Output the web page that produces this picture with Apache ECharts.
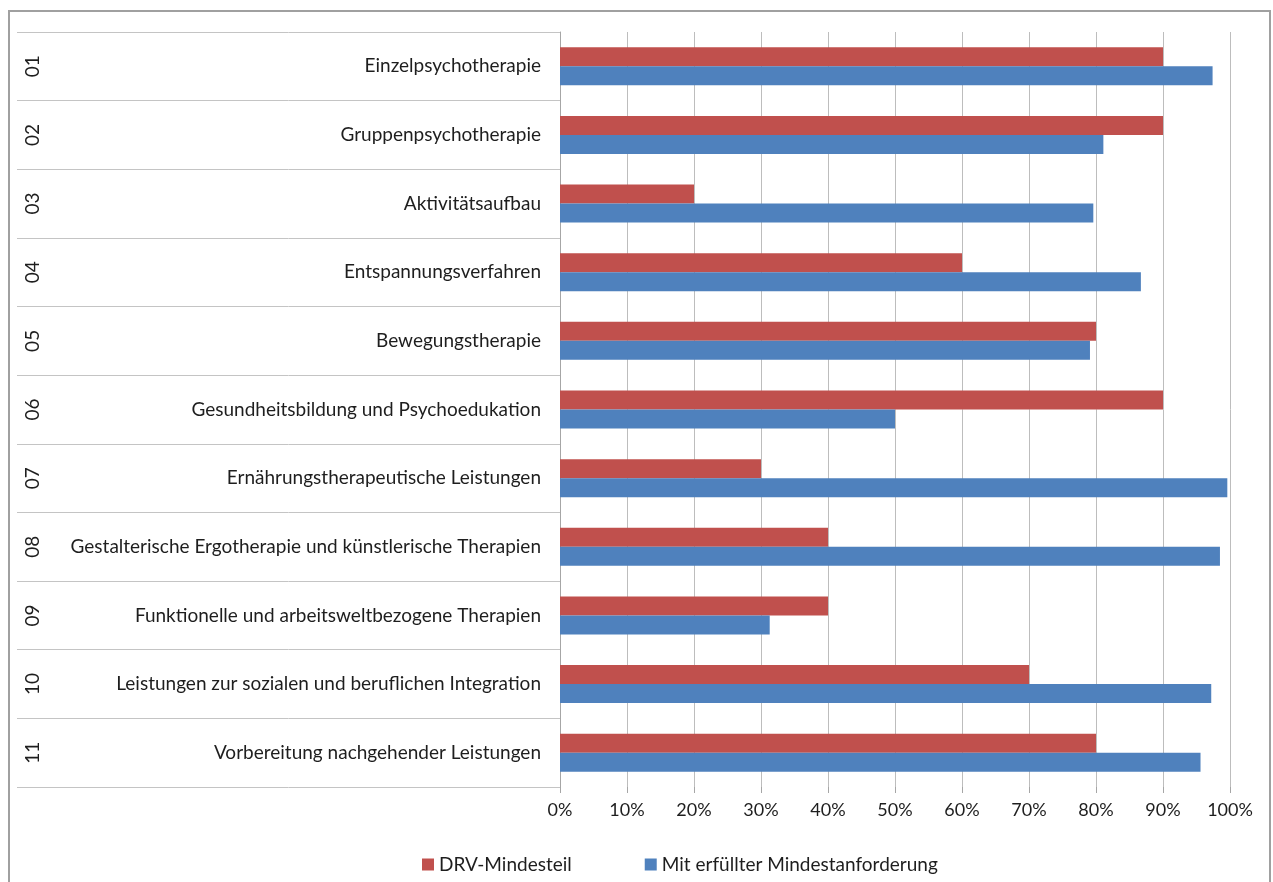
<!DOCTYPE html>
<html><head><meta charset="utf-8">
<script src="https://cdn.jsdelivr.net/npm/echarts@6/dist/echarts.min.js"></script>
<style>html,body{margin:0;padding:0;background:#fff}#c{width:1273px;height:882px}</style>
</head><body><div id="c"></div>
<script>
const codes = ['01','02','03','04','05','06','07','08','09','10','11'];
const categories = [
  'Einzelpsychotherapie',
  'Gruppenpsychotherapie',
  'Aktivitätsaufbau',
  'Entspannungsverfahren',
  'Bewegungstherapie',
  'Gesundheitsbildung und Psychoedukation',
  'Ernährungstherapeutische Leistungen',
  'Gestalterische Ergotherapie und künstlerische Therapien',
  'Funktionelle und arbeitsweltbezogene Therapien',
  'Leistungen zur sozialen und beruflichen Integration',
  'Vorbereitung nachgehender Leistungen'
];
const drvMindestteil = [90, 90, 20, 60, 80, 90, 30, 40, 40, 70, 80];
const mitErfuellter = [97.4, 81.1, 79.6, 86.7, 79.1, 50, 99.6, 98.5, 31.3, 97.2, 95.6];
const seriesNames = ['DRV-Mindesteil', 'Mit erfüllter Mindestanforderung'];

const FONT = 'Lato';
const TXT = '#1e1e1e';
const FS = 19;
const chart = echarts.init(document.getElementById('c'), null, {renderer: 'canvas'});
chart.setOption({
  animation: false,
  backgroundColor: '#fff',
  textStyle: {fontFamily: FONT},
  grid: {left: 560, right: 43, top: 32, bottom: 95, containLabel: false},
  legend: {
    data: seriesNames,
    left: 417, top: 850,
    icon: 'rect', itemWidth: 12, itemHeight: 12, itemGap: 73,
    textStyle: {fontFamily: FONT, fontSize: FS, color: TXT}
  },
  xAxis: {
    type: 'value', min: 0, max: 100, interval: 10,
    axisLine: {show: false},
    axisTick: {show: true, length: 6, lineStyle: {color: '#a6a6a6'}},
    splitLine: {show: true, lineStyle: {color: '#bdbdbd', width: 1}},
    axisLabel: {formatter: '{value}%', margin: 14, fontSize: 18, color: TXT, fontFamily: FONT}
  },
  yAxis: [
    {
      type: 'category', data: categories, inverse: true, position: 'left',
      axisLine: {show: true, lineStyle: {color: '#a6a6a6'}},
      axisTick: {show: true, length: 543, interval: 0, lineStyle: {color: '#c4c4c4'}},
      axisLabel: {margin: 19, fontSize: FS, color: TXT, fontFamily: FONT}
    },
    {
      type: 'category', data: codes, inverse: true, position: 'left', offset: 518,
      axisLine: {show: false}, axisTick: {show: false},
      axisLabel: {rotate: 90, margin: 0, fontSize: FS, color: TXT, fontFamily: FONT}
    }
  ],
  series: [
    {name: seriesNames[0], type: 'bar', yAxisIndex: 0, data: drvMindestteil,
     barWidth: 19, barGap: '0%', itemStyle: {color: '#C0504D'}},
    {name: seriesNames[1], type: 'bar', yAxisIndex: 0, data: mitErfuellter,
     barWidth: 19, barGap: '0%', itemStyle: {color: '#4F81BD'}}
  ],
  graphic: [{
    type: 'rect', silent: true, z: 100,
    shape: {x: 9, y: 11, width: 1261, height: 900},
    style: {fill: 'none', stroke: '#a0a0a0', lineWidth: 2}
  }]
});
</script></body></html>
